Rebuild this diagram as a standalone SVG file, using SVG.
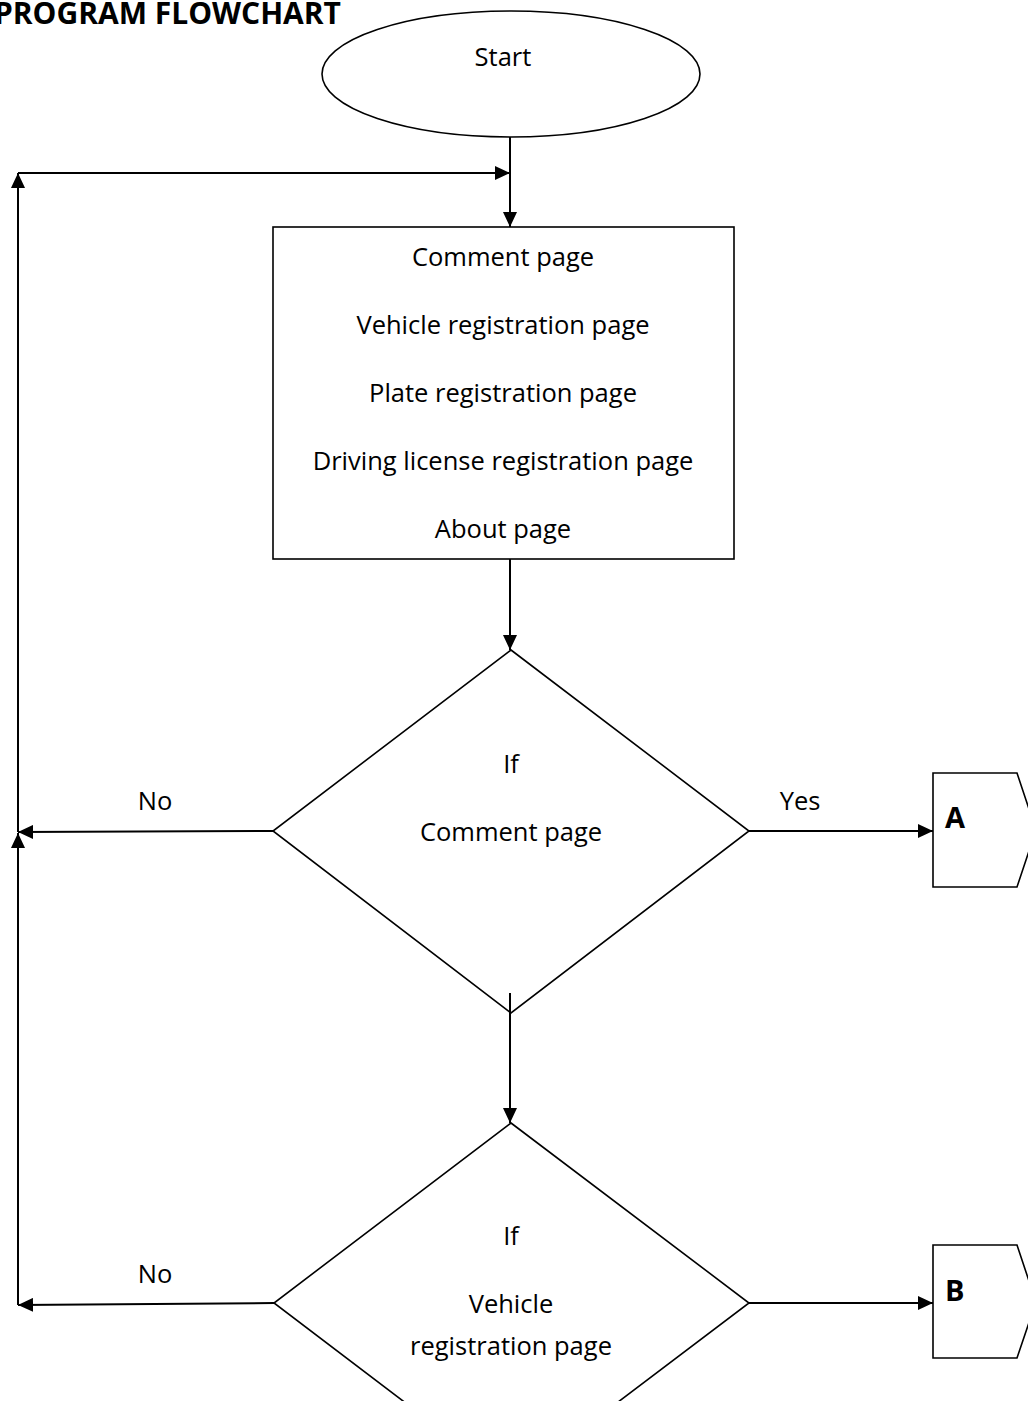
<svg xmlns="http://www.w3.org/2000/svg" width="1028" height="1401" viewBox="0 0 1028 1401">
<style>
.shape{fill:#fff;stroke:#000;stroke-width:1.6}
.conn{fill:none;stroke:#000;stroke-width:2}
.t{font-family:"Open Sans","Noto Sans",sans-serif;font-size:25.5px;fill:#000;text-anchor:middle}
.b{font-family:"Open Sans","Noto Sans",sans-serif;font-weight:bold;fill:#000}
</style>
<defs>
<marker id="arr" markerUnits="userSpaceOnUse" markerWidth="16" markerHeight="14" refX="15" refY="7" orient="auto">
<path d="M0,0 L15,7 L0,14 Z" fill="#000"/>
</marker>
</defs>
<rect width="1028" height="1401" fill="#fff"/>
<text class="b" x="341" y="24" font-size="30" text-anchor="end">PROGRAM FLOWCHART</text>

<g id="start">
<ellipse class="shape" cx="511" cy="74" rx="189" ry="63"/>
<text class="t" x="503" y="66">Start</text>
</g>

<g id="pages">
<rect class="shape" x="273" y="227" width="461" height="332"/>
<text class="t" x="503" y="266">Comment page</text>
<text class="t" x="503" y="334">Vehicle registration page</text>
<text class="t" x="503" y="402">Plate registration page</text>
<text class="t" x="503" y="470">Driving license registration page</text>
<text class="t" x="503" y="538">About page</text>
</g>

<g id="decision1">
<polygon class="shape" points="511,650 749,831 511,1013 273,831"/>
<text class="t" x="511" y="773">If</text>
<text class="t" x="511" y="841">Comment page</text>
</g>

<g id="decision2">
<polygon class="shape" points="511,1123 749,1303 511,1483 274,1303"/>
<text class="t" x="511" y="1245">If</text>
<text class="t" x="511" y="1313">Vehicle</text>
<text class="t" x="511" y="1355">registration page</text>
</g>

<g id="connA">
<polygon class="shape" points="933,773 1017,773 1036,830 1017,887 933,887"/>
<text class="b" x="945" y="828" font-size="29">A</text>
</g>

<g id="connB">
<polygon class="shape" points="933,1245 1017,1245 1036,1302 1017,1358 933,1358"/>
<text class="b" x="945" y="1301" font-size="29">B</text>
</g>

<g id="connectors">
<line class="conn" x1="510" y1="137" x2="510" y2="227" marker-end="url(#arr)"/>
<line class="conn" x1="18" y1="173" x2="510" y2="173" marker-end="url(#arr)"/>
<line class="conn" x1="18" y1="832" x2="18" y2="173" marker-end="url(#arr)"/>
<line class="conn" x1="18" y1="1305" x2="18" y2="833" marker-end="url(#arr)"/>
<line class="conn" x1="510" y1="559" x2="510" y2="650" marker-end="url(#arr)"/>
<line class="conn" x1="273" y1="831" x2="18" y2="832" marker-end="url(#arr)"/>
<line class="conn" x1="749" y1="831" x2="933" y2="831" marker-end="url(#arr)"/>
<line class="conn" x1="510" y1="993" x2="510" y2="1123" marker-end="url(#arr)"/>
<line class="conn" x1="274" y1="1303" x2="18" y2="1305" marker-end="url(#arr)"/>
<line class="conn" x1="749" y1="1303" x2="933" y2="1303" marker-end="url(#arr)"/>
<text class="t" x="155" y="810">No</text>
<text class="t" x="800" y="810">Yes</text>
<text class="t" x="155" y="1283">No</text>
</g>
</svg>
